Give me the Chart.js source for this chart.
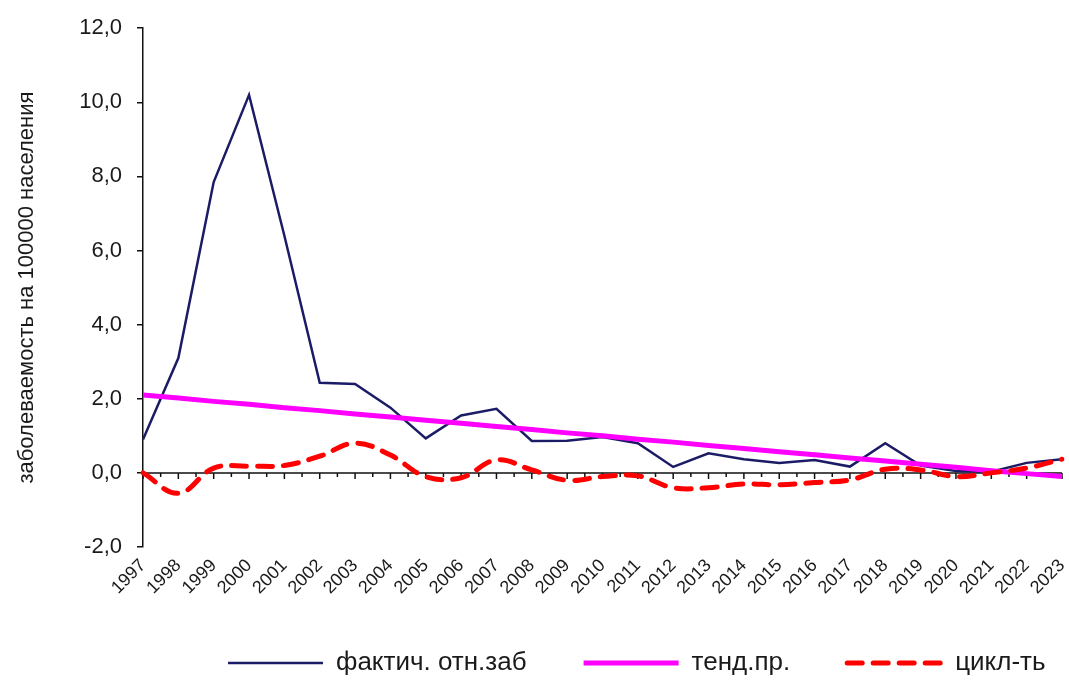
<!DOCTYPE html>
<html lang="ru">
<head>
<meta charset="utf-8">
<script src="https://cdn.jsdelivr.net/npm/chart.js@4.4.1/dist/chart.umd.min.js"></script>
<style>
    html, body { margin: 0; padding: 0; background: #fff; }
    #wrap { width: 1069px; height: 682px; }
</style>
</head>
<body>
<div id="wrap"><canvas id="morbidityChart" width="1069" height="682"></canvas></div>
<script>
// годы наблюдения
const years = ["1997", "1998", "1999", "2000", "2001", "2002", "2003", "2004", "2005", "2006",
    "2007", "2008", "2009", "2010", "2011", "2012", "2013", "2014", "2015", "2016",
    "2017", "2018", "2019", "2020", "2021", "2022", "2023"];

// фактическая заболеваемость на 100000 населения
const actualRate = [0.9, 3.1, 7.85, 10.2, 6.4, 2.43, 2.4, 1.76, 0.93, 1.55,
    1.73, 0.86, 0.87, 0.97, 0.8, 0.16, 0.53, 0.37, 0.27, 0.35,
    0.17, 0.8, 0.2, 0.05, 0.03, 0.27, 0.37];

// линия тенденции
const trendRate = [2.10, 2.02, 1.93, 1.85, 1.76, 1.68, 1.59, 1.51, 1.42, 1.34,
    1.25, 1.17, 1.08, 1.00, 0.91, 0.83, 0.74, 0.66, 0.57, 0.49,
    0.40, 0.32, 0.23, 0.15, 0.06, -0.02, -0.10];

// цикличность (отклонение от тенденции)
const cycleRate = [0.0, -0.55, 0.13, 0.18, 0.2, 0.45, 0.8, 0.48, -0.1, -0.13,
    0.35, 0.08, -0.2, -0.1, -0.08, -0.4, -0.4, -0.3, -0.32, -0.26,
    -0.19, 0.1, 0.08, -0.1, 0.0, 0.13, 0.37];

const yTicks = [-2, 0, 2, 4, 6, 8, 10, 12];

const FONT = "'Liberation Sans', Arial, sans-serif";

// ось через ноль с засечками по годам
const zeroAxis = {
    id: "zeroAxis",
    beforeDatasetsDraw(chart) {
        const { ctx, chartArea, scales: { x, y } } = chart;
        const y0 = y.getPixelForValue(0);
        ctx.save();
        ctx.strokeStyle = "#111";
        ctx.lineWidth = 1.5;
        ctx.beginPath();
        ctx.moveTo(chartArea.left, y0);
        ctx.lineTo(chartArea.right, y0);
        for (let i = 0; i < years.length; i++) {
            const px = x.getPixelForValue(i);
            ctx.moveTo(px, y0);
            ctx.lineTo(px, y0 + 6);
            if (i < years.length - 1) {
                const mid = (px + x.getPixelForValue(i + 1)) / 2;
                ctx.moveTo(mid, y0);
                ctx.lineTo(mid, y0 + 4);
            }
        }
        ctx.stroke();
        ctx.restore();
    }
};

// легенда правее и чуть ниже; подписи годов не обрезаются по высоте оси
const layoutTweak = {
    id: "layoutTweak",
    afterLayout(chart) {
        const lg = chart.legend;
        const dx = 171 - lg.left;
        lg.left += dx;
        lg.right += dx;
        lg.top += 4;
        lg.bottom += 4;
        chart.scales.x.bottom = chart.height;
    }
};

const ctx = document.getElementById("morbidityChart").getContext("2d");
new Chart(ctx, {
    type: "line",
    data: {
        labels: years,
        datasets: [
            {
                label: "фактич. отн.заб",
                data: actualRate,
                borderColor: "#1c1c66",
                borderWidth: 2.5,
                tension: 0,
                order: 3
            },
            {
                label: "тенд.пр.",
                data: trendRate,
                borderColor: "#ff00ff",
                borderWidth: 5,
                tension: 0,
                order: 2
            },
            {
                label: "цикл-ть",
                data: cycleRate,
                borderColor: "#ff0000",
                borderWidth: 5,
                borderDash: [15, 11],
                borderCapStyle: "round",
                tension: 0.4,
                order: 1
            }
        ]
    },
    options: {
        responsive: false,
        animation: false,
        layout: { padding: { top: 23, right: 7, bottom: 0, left: 0 } },
        elements: { point: { radius: 0, hoverRadius: 0 } },
        plugins: {
            tooltip: { enabled: false },
            legend: {
                position: "bottom",
                align: "start",
                labels: {
                    usePointStyle: true,
                    pointStyleWidth: 95,
                    padding: 57,
                    color: "#1a1a1a",
                    font: { family: FONT, size: 26 },
                    generateLabels: chart => chart.data.datasets.map((ds, i) => ({
                        text: ds.label,
                        fillStyle: ds.borderColor,
                        strokeStyle: ds.borderColor,
                        lineWidth: ds.borderWidth,
                        lineDash: ds.borderDash || [],
                        lineCap: ds.borderCapStyle || "butt",
                        pointStyle: "line",
                        fontColor: "#1a1a1a",
                        hidden: false,
                        datasetIndex: i
                    }))
                }
            }
        },
        scales: {
            x: {
                grid: { display: false, drawTicks: false },
                border: { display: false },
                ticks: {
                    autoSkip: false,
                    minRotation: 45,
                    maxRotation: 45,
                    padding: 8,
                    color: "#1a1a1a",
                    font: { family: FONT, size: 18 }
                },
                afterFit: s => { s.height = 42; s.paddingRight = 0; }
            },
            y: {
                min: -2,
                max: 12,
                afterBuildTicks: s => { s.ticks = yTicks.map(v => ({ value: v })); },
                grid: { drawOnChartArea: false, tickLength: 6, color: "#111", lineWidth: 1.5 },
                border: { display: true, color: "#111", width: 1.5 },
                ticks: {
                    padding: 15,
                    color: "#1a1a1a",
                    font: { family: FONT, size: 22 },
                    callback: v => v.toFixed(1).replace(".", ",")
                },
                title: {
                    display: true,
                    text: "заболеваемость на 100000 населения",
                    color: "#1a1a1a",
                    padding: { top: 14, bottom: 0 },
                    font: { family: FONT, size: 22 }
                },
                afterFit: s => { s.width = 143; }
            }
        }
    },
    plugins: [zeroAxis, layoutTweak]
});
</script>
</body>
</html>
